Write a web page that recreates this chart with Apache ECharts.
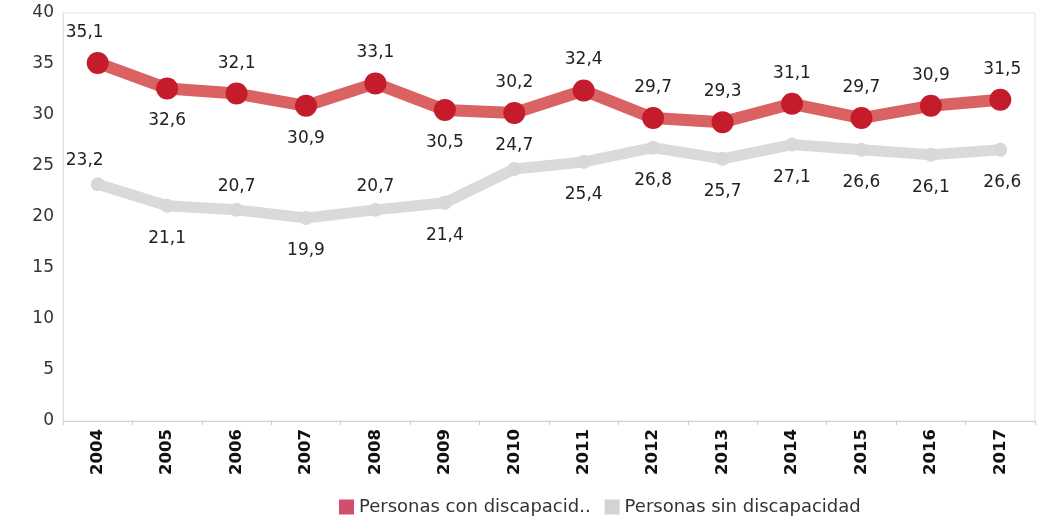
<!DOCTYPE html>
<html><head><meta charset="utf-8">
<script src="https://cdn.jsdelivr.net/npm/echarts@6/dist/echarts.min.js"></script>
<style>html,body{margin:0;padding:0;background:#fff}#c{width:1041px;height:522px}</style>
</head><body><div id="c"></div>
<script>
const years = ['2004','2005','2006','2007','2008','2009','2010','2011','2012','2013','2014','2015','2016','2017'];
const conDiscapacidad = [35.1,32.6,32.1,30.9,33.1,30.5,30.2,32.4,29.7,29.3,31.1,29.7,30.9,31.5];
const sinDiscapacidad = [23.2,21.1,20.7,19.9,20.7,21.4,24.7,25.4,26.8,25.7,27.1,26.6,26.1,26.6];
const conPos = ['top','bottom','top','bottom','top','bottom','top','top','top','top','top','top','top','top'];
const sinPos = ['top','bottom','top','bottom','top','bottom','top','bottom','bottom','bottom','bottom','bottom','bottom','bottom'];
const yTicks = [0,5,10,15,20,25,30,35,40];

const FONT = '"DejaVu Sans", Verdana, sans-serif';
const fmt = p => String(p.value).replace('.', ',');
function build(vals, pos, dTop, dBot){
  return vals.map((v,i)=>({value:v, label:{position:pos[i], distance: pos[i]==='top'?dTop:dBot,
    offset: i===0?[-13,0]:(i===vals.length-1?[2,0]:[0,0])}}));
}
const chart = echarts.init(document.getElementById('c'));
chart.setOption({
  animation:false,
  textStyle:{fontFamily:FONT},
  grid:{left:63,right:6,top:13,bottom:101,show:true,borderColor:'#e4e4e4',borderWidth:1},
  legend:{bottom:1,left:334,itemWidth:15,itemHeight:15,itemGap:14,icon:'rect',
    textStyle:{fontSize:18,color:'#333',fontFamily:FONT},
    data:[{name:'Personas con discapacid..',itemStyle:{color:'#d0506c'}},{name:'Personas sin discapacidad',itemStyle:{color:'#d3d3d3'}}]},
  xAxis:{type:'category',data:years,boundaryGap:true,
    axisLine:{lineStyle:{color:'#cfcfcf'}},
    axisTick:{show:true,length:4,lineStyle:{color:'#cfcfcf'}},
    axisLabel:{rotate:90,fontSize:16.5,fontWeight:'bold',color:'#111',margin:8,fontFamily:FONT}},
  yAxis:{type:'value',min:0,max:40,interval:5,
    axisLine:{show:true,lineStyle:{color:'#e0e0e0'}},
    axisTick:{show:false},splitLine:{show:false},
    axisLabel:{fontSize:17,color:'#333',margin:9,fontFamily:FONT,customValues:yTicks}},
  series:[
    {name:'Personas con discapacid..',type:'line',data:build(conDiscapacidad,conPos,11,13),
      lineStyle:{width:12,color:'rgba(212,70,72,0.85)'},
      itemStyle:{color:'#c41c2a'},symbol:'circle',symbolSize:22,
      label:{show:true,formatter:fmt,fontSize:17,color:'#222',fontFamily:FONT},z:3},
    {name:'Personas sin discapacidad',type:'line',data:build(sinDiscapacidad,sinPos,8,17),
      lineStyle:{width:11,color:'rgba(212,212,212,0.85)'},
      itemStyle:{color:'#d8d8d8'},symbol:'circle',symbolSize:14,
      label:{show:true,formatter:fmt,fontSize:17,color:'#222',fontFamily:FONT},z:2}
  ]
});
</script></body></html>
